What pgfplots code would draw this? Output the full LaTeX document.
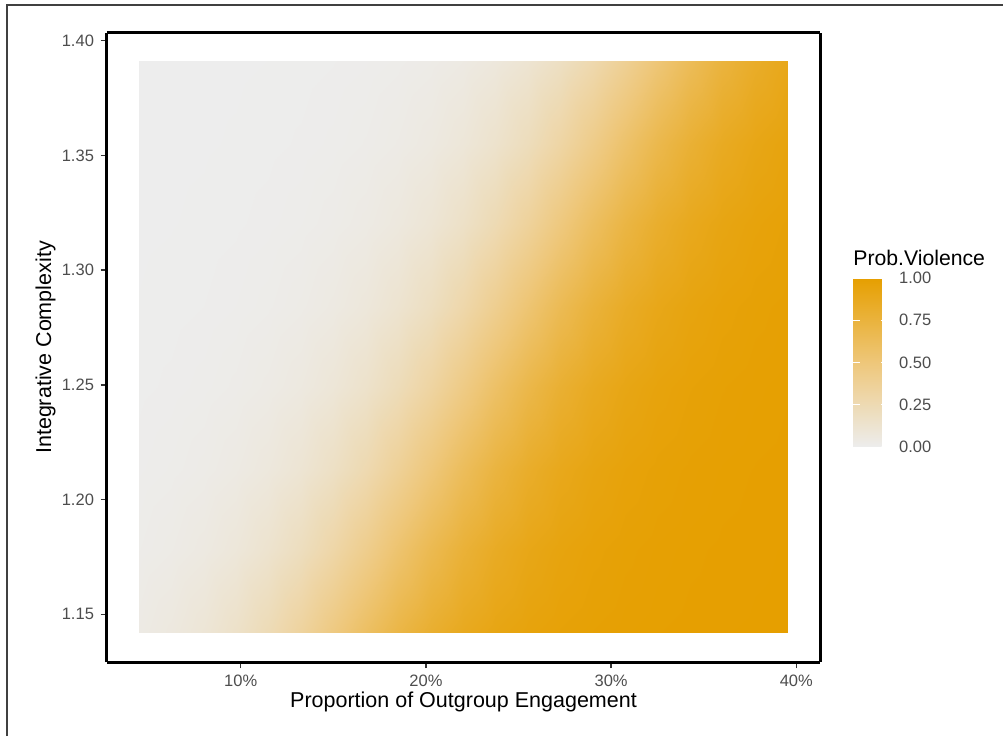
\documentclass[border=0pt]{standalone}
\usepackage{pgfplots}
\pgfplotsset{compat=1.18}
\usepackage{fontspec}
\setmainfont{Liberation Sans}
\definecolor{ticktext}{HTML}{4D4D4D}
\definecolor{tickline}{HTML}{333333}

\begin{document}
\begin{tikzpicture}
% page extent
\useasboundingbox (-53.5pt,-37pt) rectangle (448pt,331pt);
% page frame (left and top edges)
\draw[black!75, line width=0.8pt] (-50pt,-37pt) -- (-50pt,328.5pt) -- (448pt,328.5pt);

\begin{axis}[
  name=main,
  at={(0,0)}, anchor=south west,
  width=356.5pt, height=314.5pt, scale only axis,
  view={0}{90},
  xmin=2.78, xmax=41.28, ymin=1.1292, ymax=1.4034,
  enlargelimits=false,
  xtick={10,20,30,40},
  xticklabels={10\%,20\%,30\%,40\%},
  ytick={1.15,1.20,1.25,1.30,1.35,1.40},
  ztick=\empty,
  yticklabel style={/pgf/number format/.cd, fixed, fixed zerofill, precision=2, assume math mode=true},
  ticklabel style={font=\fontsize{8.25}{9}\selectfont, text=ticktext},
  tick align=outside,
  tick pos=left,
  major tick length=3pt,
  every tick/.style={tickline, line width=0.7pt},
  axis line style={black, line width=1.5pt},
  xlabel={Proportion of Outgroup Engagement},
  ylabel={Integrative Complexity},
  label style={font=\fontsize{10.75}{12}\selectfont},
  xlabel style={at={(axis description cs:0.5,-0.0731)}, anchor=base},
  ylabel style={at={(axis description cs:-0.0785,0.5)}, anchor=base},
  % light grey -> #E69F00
  colormap={pv}{rgb255=(237,237,237) rgb255=(238,199,122) rgb255=(230,159,0)},
  point meta min=0, point meta max=1,
  colorbar,
  colorbar style={
    at={(parent axis.north east)}, anchor=north west,
    xshift=8pt, yshift=-122.5pt,
    width=17.5pt, height=84.5pt, scale only axis,
    ytick={0,0.25,0.5,0.75,1},
    yticklabel pos=right,
    major tick length=0pt,
    axis line style={draw=none},
    yticklabel style={font=\fontsize{8.25}{9}\selectfont, text=ticktext, xshift=2pt,
      /pgf/number format/.cd, fixed, fixed zerofill, precision=2, assume math mode=true},
    % short white marks on both edges of the bar
    extra description/.code={
      \foreach \f in {0.25,0.5,0.75} {
        \draw[white, line width=0.6pt] (axis description cs:0,\f) -- ++(3.5pt,0);
        \draw[white, line width=0.6pt] (axis description cs:0,\f) ++(14pt,0) -- ++(3.5pt,0);
      }
    },
  },
]
\addplot3[surf, shader=interp, mesh/rows=8, mesh/cols=21, point meta=explicit]
  table[x=x, y=y, z expr=0, meta=p] {
x y p
4.5 1.142 0.0389
6.25 1.142 0.0635
8 1.142 0.1019
9.75 1.142 0.1595
11.5 1.142 0.2410
13.25 1.142 0.3468
15 1.142 0.4705
16.75 1.142 0.5980
18.5 1.142 0.7134
20.25 1.142 0.8063
22 1.142 0.8745
23.75 1.142 0.9210
25.5 1.142 0.9512
27.25 1.142 0.9703
29 1.142 0.9820
30.75 1.142 0.9892
32.5 1.142 0.9935
34.25 1.142 0.9961
36 1.142 0.9977
37.75 1.142 0.9986
39.5 1.142 0.9992
4.5 1.178 0.0193
6.25 1.178 0.0319
8 1.178 0.0523
9.75 1.178 0.0845
11.5 1.178 0.1338
13.25 1.178 0.2054
15 1.178 0.3019
16.75 1.178 0.4197
18.5 1.178 0.5476
20.25 1.178 0.6695
22 1.178 0.7722
23.75 1.178 0.8501
25.5 1.178 0.9047
27.25 1.178 0.9408
29 1.178 0.9637
30.75 1.178 0.9780
32.5 1.178 0.9868
34.25 1.178 0.9920
36 1.178 0.9952
37.75 1.178 0.9971
39.5 1.178 0.9983
4.5 1.213 0.0097
6.25 1.213 0.0161
8 1.213 0.0267
9.75 1.213 0.0439
11.5 1.213 0.0712
13.25 1.213 0.1137
15 1.213 0.1768
16.75 1.213 0.2643
18.5 1.213 0.3754
20.25 1.213 0.5015
22 1.213 0.6274
23.75 1.213 0.7379
25.5 1.213 0.8249
27.25 1.213 0.8875
29 1.213 0.9295
30.75 1.213 0.9567
32.5 1.213 0.9736
34.25 1.213 0.9841
36 1.213 0.9904
37.75 1.213 0.9942
39.5 1.213 0.9965
4.5 1.249 0.0047
6.25 1.249 0.0079
8 1.249 0.0132
9.75 1.249 0.0218
11.5 1.249 0.0360
13.25 1.249 0.0588
15 1.249 0.0946
16.75 1.249 0.1488
18.5 1.249 0.2263
20.25 1.249 0.3285
22 1.249 0.4502
23.75 1.249 0.5781
25.5 1.249 0.6961
27.25 1.249 0.7931
29 1.249 0.8652
30.75 1.249 0.9148
32.5 1.249 0.9473
34.25 1.249 0.9678
36 1.249 0.9805
37.75 1.249 0.9882
39.5 1.249 0.9929
4.5 1.284 0.0024
6.25 1.284 0.0039
8 1.284 0.0066
9.75 1.284 0.0110
11.5 1.284 0.0182
13.25 1.284 0.0301
15 1.284 0.0493
16.75 1.284 0.0799
18.5 1.284 0.1269
20.25 1.284 0.1954
22 1.284 0.2891
23.75 1.284 0.4049
25.5 1.284 0.5322
27.25 1.284 0.6557
29 1.284 0.7612
30.75 1.284 0.8421
32.5 1.284 0.8992
34.25 1.284 0.9372
36 1.284 0.9615
37.75 1.284 0.9766
39.5 1.284 0.9859
4.5 1.320 0.0012
6.25 1.320 0.0019
8 1.320 0.0032
9.75 1.320 0.0054
11.5 1.320 0.0090
13.25 1.320 0.0149
15 1.320 0.0247
16.75 1.320 0.0406
18.5 1.320 0.0662
20.25 1.320 0.1060
22 1.320 0.1655
23.75 1.320 0.2492
25.5 1.320 0.3571
27.25 1.320 0.4815
29 1.320 0.6085
30.75 1.320 0.7223
32.5 1.320 0.8132
34.25 1.320 0.8792
36 1.320 0.9241
37.75 1.320 0.9532
39.5 1.320 0.9715
4.5 1.355 0.0006
6.25 1.355 0.0010
8 1.355 0.0016
9.75 1.355 0.0027
11.5 1.355 0.0045
13.25 1.355 0.0075
15 1.355 0.0124
16.75 1.355 0.0206
18.5 1.355 0.0340
20.25 1.355 0.0556
22 1.355 0.0896
23.75 1.355 0.1415
25.5 1.355 0.2162
27.25 1.355 0.3157
29 1.355 0.4356
30.75 1.355 0.5636
32.5 1.355 0.6837
34.25 1.355 0.7833
36 1.355 0.8582
37.75 1.355 0.9101
39.5 1.355 0.9442
4.5 1.391 0.0003
6.25 1.391 0.0005
8 1.391 0.0008
9.75 1.391 0.0013
11.5 1.391 0.0022
13.25 1.391 0.0036
15 1.391 0.0061
16.75 1.391 0.0101
18.5 1.391 0.0168
20.25 1.391 0.0278
22 1.391 0.0457
23.75 1.391 0.0742
25.5 1.391 0.1183
27.25 1.391 0.1833
29 1.391 0.2731
30.75 1.391 0.3858
32.5 1.391 0.5125
34.25 1.391 0.6376
36 1.391 0.7463
37.75 1.391 0.8312
39.5 1.391 0.8918
};
\end{axis}
% colour bar title
\node[anchor=base west, font=\fontsize{10.6}{12}\selectfont, inner sep=0pt]
  at ([xshift=16.5pt, yshift=-116.5pt]main.north east) {Prob.Violence};
\end{tikzpicture}
\end{document}
